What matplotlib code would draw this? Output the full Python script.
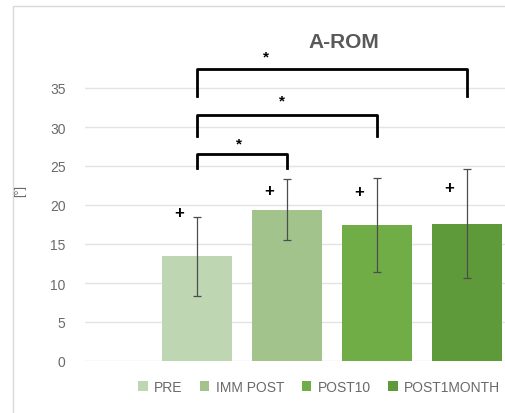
import matplotlib
matplotlib.use('Agg')
import matplotlib.pyplot as plt
from matplotlib.patches import Rectangle, Patch
import numpy as np

# data
groups = ['PRE', 'IMM POST', 'POST10', 'POST1MONTH']
means = [13.4, 19.4, 17.4, 17.6]
sds = [5.1, 3.9, 6.0, 7.0]
colors = ['#bfd6b2', '#a2c48c', '#70ad47', '#5f9a3a']

# "+" markers above each bar
plus_y = [19.0, 21.9, 21.7, 22.3]

# significance brackets (from group, to group, top, leg length, star x, star y)
br_from = [0, 0, 0]
br_to = [1, 2, 3]
br_top = [26.5, 31.5, 37.5]
br_leg = [1.8, 2.7, 3.5]
star_x = [0.47, 0.94, 0.77]
star_y = [27.9, 33.4, 39.0]

plt.rcParams['font.family'] = ['Liberation Sans', 'DejaVu Sans']
grey = '#6a6a6a'

fig = plt.figure(figsize=(5.06, 4.14), dpi=100)
W, H = 506, 414
ax = fig.add_axes([85/W, 1-362/H, 1-85/W, 312/H])

x = np.arange(len(groups))
ax.bar(x, means, width=0.78, color=colors, zorder=2)
ax.errorbar(x, means, yerr=sds, fmt='none', ecolor='#4d4d4d', elinewidth=0.9,
            capsize=3, capthick=0.9, zorder=3)

for xi, yi in zip(x, plus_y):
    ax.text(xi-0.2, yi, '+', ha='center', va='center', fontsize=12,
            fontweight='bold', color='black', zorder=4)

for a, b, top, leg, sx, sy in zip(br_from, br_to, br_top, br_leg, star_x, star_y):
    ax.plot([a, a, b, b], [top-leg, top, top, top-leg], color='black', lw=2,
            clip_on=False, zorder=4, solid_joinstyle='round')
    ax.text(sx, sy, '*', ha='center', va='center', fontsize=11,
            fontweight='bold', clip_on=False)

ax.set_xlim(-1.244, 3.433)
ax.set_ylim(0, 40)
ax.set_yticks(range(0, 40, 5))
ax.set_xticks([])
ax.grid(axis='y', color='#e3e3e3', lw=1, zorder=0)
ax.set_axisbelow(True)
for s in ax.spines.values():
    s.set_visible(False)
ax.tick_params(axis='y', length=0, pad=14, labelsize=10, labelcolor=grey)

fig.text(344/W, 1-42/H, 'A-ROM', ha='center', va='center', fontsize=15,
         fontweight='bold', color='#595959')
fig.text(20/W, 1-191/H, '[°]', ha='center', va='center', rotation=90,
         fontsize=9, color=grey)

handles = [Patch(facecolor=c, label=g) for c, g in zip(colors, groups)]
fig.legend(handles=handles, loc='center', bbox_to_anchor=(319/W, 1-388/H),
           ncol=4, frameon=False, fontsize=10, handlelength=0.7,
           handleheight=0.7, handletextpad=0.45, columnspacing=1.25,
           labelcolor=grey)

# chart border (cropped on right and bottom)
fig.patches.append(Rectangle((13/W, -0.1), 1.2, 1-7/H+0.1, fill=False,
                             edgecolor='#d9d9d9', lw=1,
                             transform=fig.transFigure))

fig.savefig('out.png', dpi=100)
